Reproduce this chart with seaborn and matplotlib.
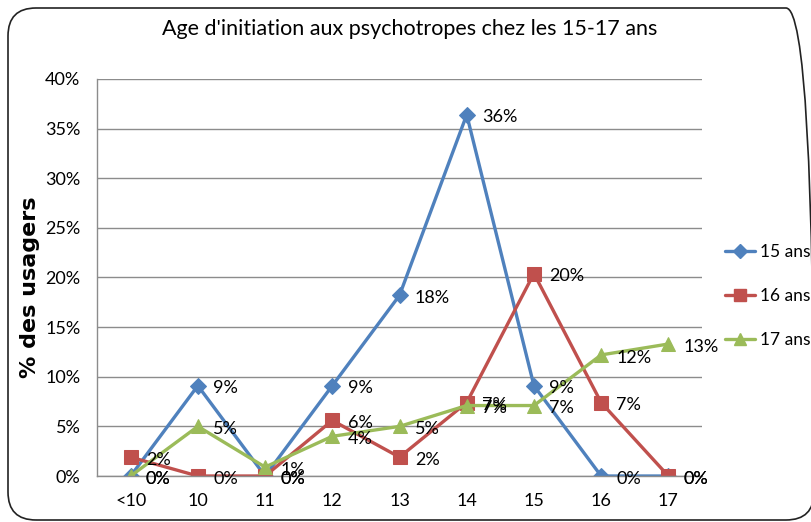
import pandas as pd
import matplotlib.pyplot as plt
import seaborn as sns
from matplotlib.patches import FancyBboxPatch
from matplotlib.transforms import IdentityTransform
from matplotlib.lines import Line2D

# --- données ---
ages = ['<10', '10', '11', '12', '13', '14', '15', '16', '17']
series = ['15 ans', '16 ans', '17 ans']
v15 = [0.0, 9.1, 0.0, 9.1, 18.2, 36.4, 9.1, 0.0, 0.0]
v16 = [1.9, 0.0, 0.0, 5.6, 1.9, 7.4, 20.4, 7.4, 0.0]
v17 = [0.0, 5.0, 0.9, 4.0, 5.0, 7.1, 7.1, 12.2, 13.3]
y_ticks = [0, 5, 10, 15, 20, 25, 30, 35, 40]

couleurs = {'15 ans': '#4F81BD', '16 ans': '#C0504D', '17 ans': '#9BBB59'}
marqueurs = {'15 ans': 'D', '16 ans': 's', '17 ans': '^'}
tailles = {'15 ans': 8, '16 ans': 10, '17 ans': 10}

df = pd.DataFrame({
    'age': ages * 3,
    'serie': [s for s in series for _ in ages],
    'pct': v15 + v16 + v17,
})

sns.set_style('white')
plt.rcParams['font.family'] = ['Lato', 'DejaVu Sans']
plt.rcParams['text.color'] = 'black'
plt.rcParams['xtick.color'] = 'black'
plt.rcParams['ytick.color'] = 'black'

fig = plt.figure(figsize=(8.12, 5.22), dpi=100)
ax = fig.add_axes([0.1195, 0.0881, 0.745, 0.7606])

for s in series:
    d = df[df['serie'] == s]
    sns.lineplot(data=d, x='age', y='pct', sort=False, ax=ax, color=couleurs[s],
                 marker=marqueurs[s], markersize=tailles[s], markeredgecolor=couleurs[s],
                 linewidth=2.4, legend=False)
    for a, v in zip(d['age'], d['pct']):
        ax.annotate(f'{round(v):.0f}%', (a, v), xytext=(11, -2), textcoords='offset points',
                    ha='left', va='center', fontsize=13)

ax.set_xlim(-0.5, len(ages) - 0.5)
ax.set_ylim(0, 40)
ax.set_yticks(y_ticks)
ax.set_yticklabels([f'{t}%' for t in y_ticks], fontsize=13)
ax.tick_params(axis='y', length=0, pad=12)
ax.tick_params(axis='x', length=0, pad=12, labelsize=13)
ax.set_xlabel('')
ax.set_ylabel('')
ax.yaxis.grid(True, color='#8c8c8c', linewidth=1)
ax.set_axisbelow(True)
for side in ['top', 'right']:
    ax.spines[side].set_visible(False)
for side in ['left', 'bottom']:
    ax.spines[side].set_color('#8c8c8c')
    ax.spines[side].set_linewidth(1)

handles = [Line2D([], [], color=couleurs[s], marker=marqueurs[s], markersize=tailles[s] - 1,
                  linewidth=2.4) for s in series]
fig.legend(handles, series, loc='center left', bbox_to_anchor=(0.893, 0.433),
           frameon=False, fontsize=12.5, handlelength=1.75, handletextpad=0.25,
           labelspacing=1.6, borderpad=0, borderaxespad=0)

fig.text(0.505, 0.945, "Age d'initiation aux psychotropes chez les 15-17 ans",
         ha='center', va='center', fontsize=15.5)
fig.text(0.037, 0.45, '% des usagers', rotation=90, ha='center', va='center',
         fontsize=16, fontweight='bold', family=['DejaVu Sans'])

# cadre arrondi autour du graphique
fig.patches.append(FancyBboxPatch((8, 2), 806, 512, boxstyle='round,pad=0,rounding_size=28',
                                  transform=IdentityTransform(), fill=False,
                                  edgecolor='#222222', linewidth=1.2))

fig.savefig('out.png', dpi=100)
